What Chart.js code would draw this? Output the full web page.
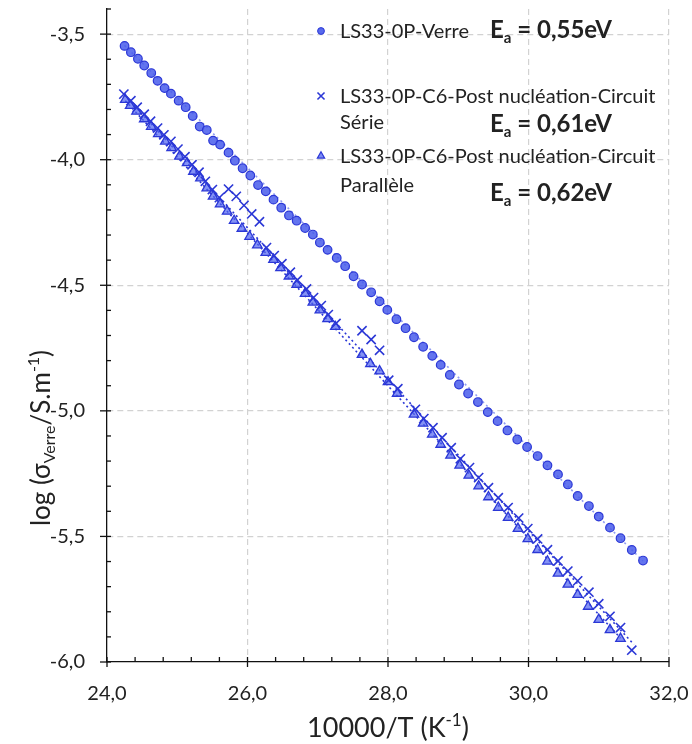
<!DOCTYPE html>
<html>
<head>
<meta charset="utf-8">
<script src="https://cdn.jsdelivr.net/npm/chart.js@4.4.1/dist/chart.umd.min.js"></script>
<style>
  html, body { margin: 0; padding: 0; background: #fff; }
  #wrap { width: 692px; height: 744px; }
</style>
</head>
<body>
<div id="wrap"><canvas id="cond-chart"></canvas></div>
<script>
// values: x = 10000/T (K-1), y = log(sigma)
const verreX = [24.25, 24.34, 24.44, 24.53, 24.63, 24.72, 24.82, 24.91, 25.02, 25.12, 25.22, 25.32, 25.42, 25.51, 25.61, 25.73, 25.82, 25.93, 26.04, 26.15, 26.26, 26.37, 26.48, 26.59, 26.70, 26.82, 26.93, 27.03, 27.14, 27.27, 27.39, 27.51, 27.63, 27.76, 27.88, 27.99, 28.12, 28.25, 28.37, 28.50, 28.63, 28.75, 28.88, 29.01, 29.14, 29.28, 29.42, 29.56, 29.70, 29.84, 29.98, 30.13, 30.27, 30.42, 30.56, 30.70, 30.86, 31.00, 31.16, 31.31, 31.47, 31.63];
const verreY = [-3.547, -3.572, -3.598, -3.625, -3.655, -3.686, -3.715, -3.737, -3.765, -3.791, -3.826, -3.868, -3.882, -3.924, -3.940, -3.972, -4.004, -4.034, -4.063, -4.101, -4.126, -4.159, -4.191, -4.222, -4.243, -4.272, -4.298, -4.330, -4.359, -4.391, -4.424, -4.464, -4.497, -4.528, -4.564, -4.598, -4.635, -4.671, -4.707, -4.745, -4.781, -4.817, -4.857, -4.895, -4.931, -4.965, -5.005, -5.041, -5.078, -5.114, -5.144, -5.180, -5.217, -5.253, -5.293, -5.339, -5.379, -5.421, -5.465, -5.507, -5.554, -5.596];

const serieX = [24.24, 24.34, 24.43, 24.53, 24.62, 24.72, 24.81, 24.91, 25.01, 25.11, 25.21, 25.31, 25.40, 25.50, 25.60, 25.73, 25.84, 25.95, 26.06, 26.17, 26.27, 26.38, 26.49, 26.61, 26.71, 26.84, 26.94, 27.05, 27.15, 27.26, 27.63, 27.76, 27.88, 28.01, 28.14, 28.39, 28.51, 28.64, 28.77, 28.90, 29.03, 29.16, 29.29, 29.43, 29.57, 29.71, 29.86, 29.99, 30.13, 30.27, 30.42, 30.56, 30.70, 30.86, 31.00, 31.16, 31.31, 31.47];
const serieY = [-3.739, -3.765, -3.791, -3.819, -3.847, -3.874, -3.901, -3.927, -3.958, -3.988, -4.020, -4.050, -4.086, -4.119, -4.151, -4.117, -4.146, -4.182, -4.216, -4.247, -4.350, -4.382, -4.414, -4.448, -4.479, -4.515, -4.549, -4.581, -4.617, -4.652, -4.681, -4.716, -4.759, -4.878, -4.912, -4.994, -5.031, -5.067, -5.107, -5.147, -5.191, -5.226, -5.266, -5.306, -5.346, -5.385, -5.427, -5.469, -5.510, -5.553, -5.598, -5.638, -5.677, -5.722, -5.768, -5.818, -5.863, -5.953];

const paraX = [24.26, 24.33, 24.42, 24.53, 24.63, 24.73, 24.83, 24.92, 25.03, 25.14, 25.23, 25.33, 25.42, 25.51, 25.61, 25.71, 25.81, 25.92, 26.03, 26.14, 26.26, 26.37, 26.47, 26.59, 26.70, 26.82, 26.93, 27.03, 27.14, 27.25, 27.63, 27.75, 27.88, 28.00, 28.13, 28.37, 28.50, 28.63, 28.75, 28.89, 29.02, 29.15, 29.29, 29.43, 29.57, 29.71, 29.85, 29.99, 30.13, 30.27, 30.42, 30.56, 30.70, 30.85, 31.00, 31.16, 31.31];
const paraY = [-3.761, -3.785, -3.808, -3.838, -3.868, -3.897, -3.927, -3.953, -3.987, -4.013, -4.047, -4.073, -4.113, -4.146, -4.177, -4.206, -4.243, -4.274, -4.306, -4.340, -4.370, -4.398, -4.431, -4.464, -4.497, -4.533, -4.568, -4.599, -4.634, -4.665, -4.776, -4.813, -4.842, -4.885, -4.931, -5.014, -5.050, -5.094, -5.134, -5.177, -5.217, -5.257, -5.300, -5.343, -5.385, -5.425, -5.469, -5.510, -5.553, -5.599, -5.647, -5.691, -5.732, -5.779, -5.831, -5.872, -5.907];

// dotted trend lines (end points)
const verreFitX = [24.25, 31.63];
const verreFitY = [-3.545, -5.598];
const serieFitX = [24.24, 31.50];
const serieFitY = [-3.74, -5.93];
const paraFitX = [24.26, 31.31];
const paraFitY = [-3.765, -5.905];

// labelled ticks
const xLabelTicks = [24, 26, 28, 30, 32];
const yLabelTicks = [-6.0, -5.5, -5.0, -4.5, -4.0, -3.5];

const seriesNames = ['LS33-0P-Verre', 'LS33-0P-C6-Post nucléation-Circuit', 'LS33-0P-C6-Post nucléation-Circuit'];
const seriesNames2 = ['', 'Série', 'Parallèle'];
const eaValues = [' = 0,55eV', ' = 0,61eV', ' = 0,62eV'];

const zip = (xs, ys) => xs.map((x, i) => ({ x: x, y: ys[i] }));
const hasVal = (arr, v) => arr.some(a => Math.abs(a - v) < 1e-6);
const fmt = v => v.toFixed(1).replace('.', ',');

const FONT = 'Lato, "DejaVu Sans", sans-serif';
const BLUE = '#2b37d6';
const TXT = '#222';

Chart.defaults.font.family = FONT;
Chart.defaults.color = TXT;

// draws a run of text pieces (normal / sub / sup), starting at x
function drawRich(ctx, parts, x, y, align) {
    let total = 0;
    parts.forEach(p => { ctx.font = p.font; total += ctx.measureText(p.t).width; });
    let cx = align === 'center' ? x - total / 2 : x;
    parts.forEach(p => {
        ctx.font = p.font;
        ctx.fillText(p.t, cx, y + (p.dy || 0));
        cx += ctx.measureText(p.t).width;
    });
}

// keep the plot area where the original has it
function noPad(s) {
    s.paddingTop = 0;
    s.paddingBottom = 0;
    s.paddingLeft = 0;
    s.paddingRight = 0;
}

const decorPlugin = {
    id: 'decor',
    afterDraw(chart) {
        const ctx = chart.ctx;
        const xs = chart.scales.x, ys = chart.scales.y;
        const area = chart.chartArea;
        ctx.save();

        // tick marks
        ctx.strokeStyle = '#111';
        ctx.lineWidth = 1.3;
        xs.ticks.forEach(t => {
            const px = xs.getPixelForValue(t.value);
            const major = hasVal(xLabelTicks, t.value);
            ctx.beginPath();
            ctx.moveTo(px, area.bottom - 5);
            ctx.lineTo(px, area.bottom + (major ? 5 : 0));
            ctx.stroke();
        });
        ys.ticks.forEach(t => {
            const py = ys.getPixelForValue(t.value);
            const major = hasVal(yLabelTicks, t.value);
            ctx.beginPath();
            ctx.moveTo(area.left + 4, py);
            ctx.lineTo(area.left - (major ? 7 : 0), py);
            ctx.stroke();
        });

        ctx.fillStyle = TXT;
        ctx.textBaseline = 'alphabetic';
        ctx.textAlign = 'left';

        // x title
        const fT = '27px ' + FONT, fTs = '17px ' + FONT;
        drawRich(ctx, [
            { t: '10000/T (K', font: fT },
            { t: '-1', font: fTs, dy: -11 },
            { t: ')', font: fT }
        ], (area.left + area.right) / 2, 737, 'center');

        // y title
        const fY = '26px ' + FONT, fYs = '16px ' + FONT;
        ctx.save();
        ctx.translate(50, 438);
        ctx.rotate(-Math.PI / 2);
        drawRich(ctx, [
            { t: 'log (σ', font: fY },
            { t: 'Verre', font: fYs, dy: 5 },
            { t: '/S.m', font: fY },
            { t: '-1', font: fYs, dy: -11 },
            { t: ')', font: fY }
        ], 0, 0, 'center');
        ctx.restore();

        // legend
        const styles = [
            { pointStyle: 'circle', radius: 3.4, borderWidth: 1 },
            { pointStyle: 'crossRot', radius: 5, borderWidth: 1.6 },
            { pointStyle: 'triangle', radius: 4.2, borderWidth: 1.2 }
        ];
        const fills = ['rgba(70,90,235,0.9)', BLUE, 'rgba(80,100,240,0.75)'];
        const rowY = [38, 103, 163];
        const row2Y = [0, 129, 192];
        const eaY = [38, 132, 201];
        const fL = '20px ' + FONT;
        const fb = 'bold 24px ' + FONT, fbs = 'bold 15px ' + FONT;
        seriesNames.forEach((name, i) => {
            ctx.fillStyle = fills[i];
            ctx.strokeStyle = BLUE;
            ctx.lineWidth = styles[i].borderWidth;
            Chart.helpers.drawPoint(ctx, { pointStyle: styles[i].pointStyle, radius: styles[i].radius, rotation: 0, borderWidth: styles[i].borderWidth }, 321, rowY[i] - 7);
            ctx.fillStyle = TXT;
            ctx.font = fL;
            ctx.fillText(name, 340, rowY[i]);
            if (seriesNames2[i]) ctx.fillText(seriesNames2[i], 340, row2Y[i]);
            drawRich(ctx, [
                { t: 'E', font: fb },
                { t: 'a', font: fbs, dy: 5 },
                { t: eaValues[i], font: fb }
            ], 490, eaY[i], 'left');
        });
        ctx.restore();
    }
};

const trendStyle = {
    showLine: true,
    pointRadius: 0,
    borderColor: BLUE,
    borderWidth: 1.6,
    borderDash: [2, 3],
    fill: false,
    order: 10
};

new Chart(document.getElementById('cond-chart').getContext('2d'), {
    type: 'scatter',
    data: {
        datasets: [
            Object.assign({ label: 'fit verre', data: zip(verreFitX, verreFitY) }, trendStyle, { borderColor: 'rgba(70,90,235,0.6)' }),
            Object.assign({ label: 'fit serie', data: zip(serieFitX, serieFitY) }, trendStyle),
            Object.assign({ label: 'fit para', data: zip(paraFitX, paraFitY) }, trendStyle),
            {
                label: seriesNames[0],
                data: zip(verreX, verreY),
                pointStyle: 'circle',
                pointRadius: 4.3,
                pointBackgroundColor: 'rgba(72,92,235,0.85)',
                pointBorderColor: BLUE,
                pointBorderWidth: 1.2,
                order: 3
            },
            {
                label: seriesNames[2] + ' ' + seriesNames2[2],
                data: zip(paraX, paraY),
                pointStyle: 'triangle',
                pointRadius: 5.5,
                pointBackgroundColor: 'rgba(80,100,240,0.7)',
                pointBorderColor: BLUE,
                pointBorderWidth: 1.3,
                order: 2
            },
            {
                label: seriesNames[1] + ' ' + seriesNames2[1],
                data: zip(serieX, serieY),
                pointStyle: 'crossRot',
                pointRadius: 6.5,
                pointBorderColor: BLUE,
                pointBorderWidth: 1.6,
                order: 1
            }
        ]
    },
    options: {
        responsive: true,
        maintainAspectRatio: false,
        animation: false,
        layout: { padding: { top: 9, right: 23, left: 0, bottom: 0 } },
        plugins: {
            legend: { display: false },
            tooltip: { enabled: false }
        },
        scales: {
            x: {
                type: 'linear',
                min: 24,
                max: 32,
                afterFit: s => { s.height = 82; noPad(s); },
                border: { display: true, color: '#111', width: 1.3, dash: [6, 4] },
                grid: {
                    drawTicks: false,
                    lineWidth: 1.2,
                    color: c => (c.tick && hasVal(xLabelTicks, c.tick.value) && c.tick.value !== 24) ? '#d2d2d2' : 'rgba(0,0,0,0)'
                },
                ticks: {
                    stepSize: 0.4,
                    autoSkip: false,
                    maxRotation: 0,
                    padding: 20,
                    color: TXT,
                    font: { size: 20 },
                    callback: v => hasVal(xLabelTicks, v) ? fmt(v) : ''
                }
            },
            y: {
                type: 'linear',
                min: -6,
                max: -3.4,
                afterFit: s => { s.width = 107; noPad(s); },
                border: { display: true, color: '#111', width: 1.3, dash: [6, 4] },
                grid: {
                    drawTicks: false,
                    lineWidth: 1.2,
                    color: c => (c.tick && hasVal(yLabelTicks, c.tick.value) && c.tick.value !== -6) ? '#d2d2d2' : 'rgba(0,0,0,0)'
                },
                ticks: {
                    stepSize: 0.1,
                    autoSkip: false,
                    padding: 22,
                    color: TXT,
                    font: { size: 20 },
                    callback: v => hasVal(yLabelTicks, v) ? fmt(v) : ''
                }
            }
        }
    },
    plugins: [decorPlugin]
});
</script>
</body>
</html>
